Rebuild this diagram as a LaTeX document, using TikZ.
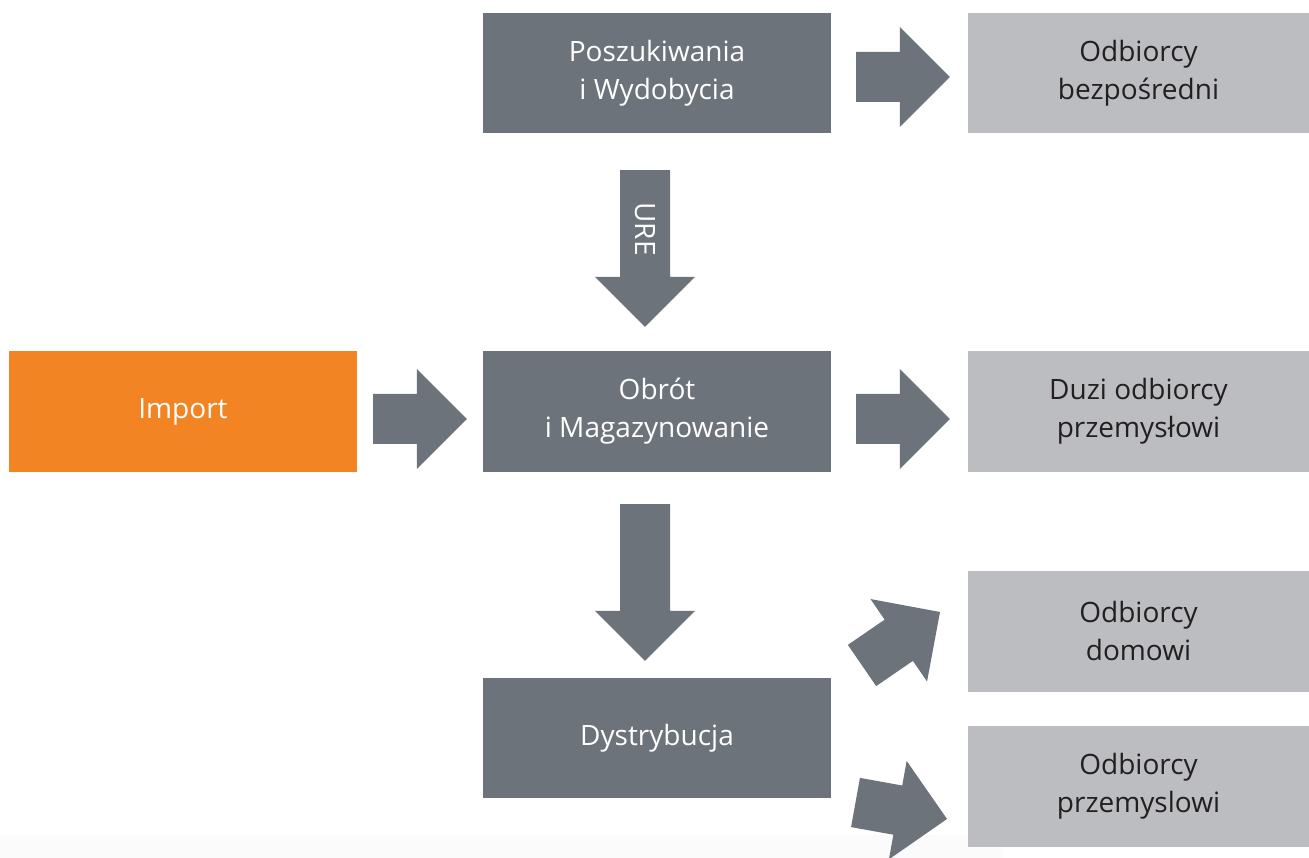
\documentclass[tikz,border=0pt]{standalone}
\usepackage{fontspec}
\setmainfont{Open Sans}
\usetikzlibrary{calc}
\definecolor{darkbox}{HTML}{6C737A}
\definecolor{lightbox}{HTML}{BCBDC1}
\definecolor{orangebox}{HTML}{F28423}
\definecolor{darktext}{HTML}{231F20}
\definecolor{stripcol}{HTML}{FBFBFB}
\tikzset{
  boxbase/.style={rectangle, inner sep=0pt, minimum width=348pt, minimum height=120pt,
    align=center, font=\fontsize{28}{38}\selectfont},
  darkstep/.style={boxbase, fill=darkbox, text=white},
  lightstep/.style={boxbase, fill=lightbox, text=darktext, minimum width=341pt},
  orangestep/.style={boxbase, fill=orangebox, text=white},
  arrowfill/.style={fill=darkbox},
}
\newcommand\fatarrow[2]{%
  \fill[arrowfill] let \p1=($(#2)-(#1)$), \n1={atan2(\y1,\x1)}, \n2={veclen(\x1,\y1)} in
    ($(#1)+(\n1+90:25)$) -- ++(\n1:{\n2-50}) -- ++(\n1+90:25) -- (#2)
    -- ($(#2)+(\n1-135:70.71)$) -- ++(\n1+90:25) -- ++(\n1+180:{\n2-50}) -- cycle;}
\begin{document}
\begin{tikzpicture}[x=1pt,y=1pt]
\useasboundingbox (0,0) rectangle (1309,858);
\fill[stripcol] (0,0) rectangle (1003,23);
% boxes (image y -> 858 - y)
\node[darkstep]  (pw) at (657,785) {Poszukiwania\\i Wydobycia};
\node[lightstep] (ob) at (1138.5,785) {Odbiorcy\\bezpośredni};
\node[orangestep,minimum height=121pt] (im) at (183,446.5) {Import};
\node[darkstep,minimum height=121pt]  (om) at (657,446.5) {Obrót\\i Magazynowanie};
\node[lightstep,minimum height=121pt] (dz) at (1138.5,446.5) {Duzi odbiorcy\\przemysłowi};
\node[darkstep]  (dy) at (657,120) {\raisebox{5pt}{Dystrybucja}};
\node[lightstep,minimum height=121pt] (od) at (1138.5,226.5) {Odbiorcy\\domowi};
\node[lightstep,minimum height=121pt] (op) at (1138.5,71.5) {Odbiorcy\\przemyslowi};
% arrow end points
\coordinate (a1s) at ($(pw.east)+(25,-4)$);
\coordinate (a1e) at ($(ob.west)+(-18,-4)$);
\coordinate (a2s) at ($(pw.south)+(-12,-37)$);
\coordinate (a2e) at ($(om.north)+(-12,24)$);
\coordinate (a3s) at ($(im.east)+(16,-7.5)$);
\coordinate (a3e) at ($(om.west)+(-16,-7.5)$);
\coordinate (a4s) at ($(om.east)+(25,-7.5)$);
\coordinate (a4e) at ($(dz.west)+(-18,-7.5)$);
\coordinate (a5s) at ($(om.south)+(-12,-32)$);
\coordinate (a5e) at ($(dy.north)+(-12,17)$);
\coordinate (a6s) at (862,192.5);
\coordinate (a6e) at (940,246);
\coordinate (a7s) at (855.5,55.5);
\coordinate (a7e) at (947,39);
\fatarrow{a1s}{a1e}
\fatarrow{a2s}{a2e}
\fatarrow{a3s}{a3e}
\fatarrow{a4s}{a4e}
\fatarrow{a5s}{a5e}
\fatarrow{a6s}{a6e}
\fatarrow{a7s}{a7e}
\node[rotate=-90, text=white, font=\fontsize{28}{30}\selectfont, inner sep=0pt] (ure) at (645,629) {URE};
\end{tikzpicture}
\end{document}
